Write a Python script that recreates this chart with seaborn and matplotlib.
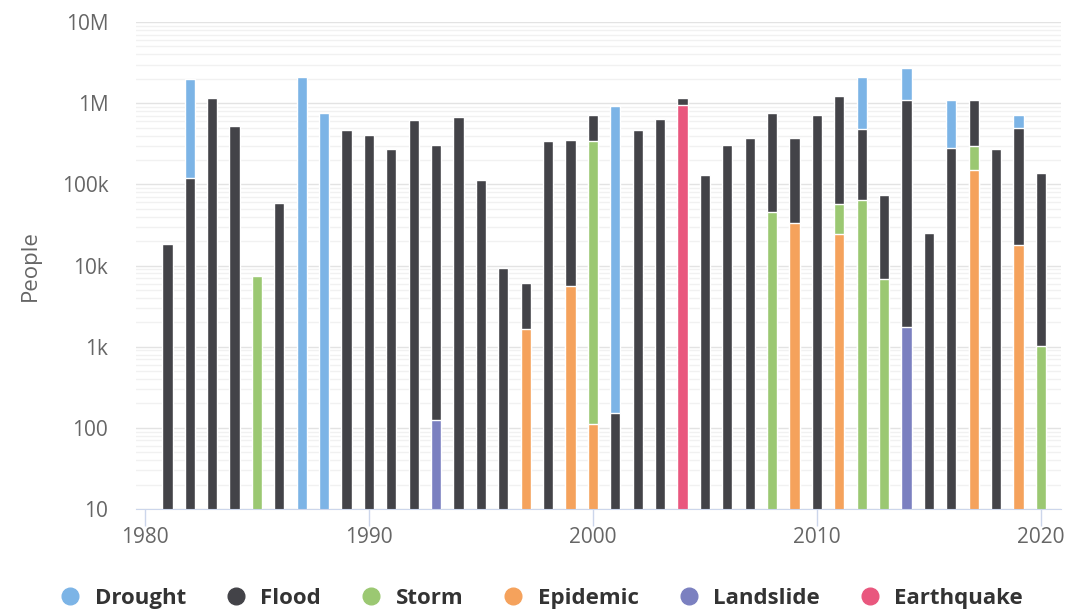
import numpy as np
import pandas as pd
import matplotlib
matplotlib.use("Agg")
import matplotlib.pyplot as plt
from matplotlib.lines import Line2D
from matplotlib.ticker import FixedLocator, FixedFormatter, LogLocator, NullFormatter
import seaborn as sns

years = list(range(1981, 2021))

# segment values per year (people affected), 1981..2020
drought = [0, 1860000, 0, 0, 0, 0, 2080000, 760000, 0, 0,
           0, 0, 0, 0, 0, 0, 0, 0, 0, 0,
           932800, 0, 0, 0, 0, 0, 0, 0, 0, 0,
           0, 1604000, 0, 1600000, 0, 821000, 0, 0, 218000, 0]
flood = [18500, 120000, 1150000, 520000, 0, 59000, 0, 0, 472000, 404000,
         276000, 614000, 304000, 684000, 112000, 9300, 4440, 342000, 349400, 366000,
         154, 467000, 644000, 206000, 131000, 304000, 377000, 714000, 343500, 711000,
         1163000, 412000, 67100, 1098250, 25000, 279000, 805000, 276000, 482200, 137980]
storm = [0, 0, 0, 0, 7500, 0, 0, 0, 0, 0,
         0, 0, 0, 0, 0, 0, 0, 0, 0, 344900,
         0, 0, 0, 0, 0, 0, 0, 46000, 0, 0,
         32500, 64000, 6900, 0, 0, 0, 146000, 0, 0, 1020]
epidemic = [0, 0, 0, 0, 0, 0, 0, 0, 0, 0,
            0, 0, 0, 0, 0, 0, 1660, 0, 5600, 111,
            0, 0, 0, 0, 0, 0, 0, 0, 33500, 0,
            24500, 0, 0, 0, 0, 0, 149000, 0, 17800, 0]
landslide = [0] * 40
landslide[years.index(1993)] = 124
landslide[years.index(2014)] = 1750
earthquake = [0] * 40
earthquake[years.index(2004)] = 944000

series_names = ["Drought", "Flood", "Storm", "Epidemic", "Landslide", "Earthquake"]
series_vals = [drought, flood, storm, epidemic, landslide, earthquake]
colors = ["#7cb4e6", "#434348", "#9bc872", "#f5a25c", "#7b80c0", "#e9577e"]

df = pd.DataFrame({"year": years})
for name, vals in zip(series_names, series_vals):
    df[name] = vals

# stack bottom -> top: Earthquake, Landslide, Epidemic, Storm, Flood, Drought
stack_order = series_names[::-1]
cum = df[stack_order].cumsum(axis=1)

all_years = list(range(1980, 2021))

fig = plt.figure(figsize=(10.65, 6.13), dpi=100)
ax = fig.add_axes([0.1277, 0.1697, 0.869, 0.7943])
ax.set_yscale("log")

# draw cumulative tops, from top layer down, each one overwriting the lower part
for name, col in zip(series_names, colors):
    sub = pd.DataFrame({"year": df["year"], "top": cum[name]})
    sub = sub[df[name] > 0]
    sns.barplot(data=sub, x="year", y="top", order=all_years, color=col,
                width=0.46, edgecolor="white", linewidth=1, errorbar=None,
                saturation=1, ax=ax)

ax.set_ylim(10, 1e7)
ax.set_xlim(-0.4, 40.92)

ax.yaxis.set_major_locator(FixedLocator([1e1, 1e2, 1e3, 1e4, 1e5, 1e6, 1e7]))
ax.yaxis.set_major_formatter(FixedFormatter(["10", "100", "1k", "10k", "100k", "1M", "10M"]))
ax.yaxis.set_minor_locator(LogLocator(base=10, subs=np.arange(2, 10)))
ax.yaxis.set_minor_formatter(NullFormatter())
ax.grid(axis="y", which="major", color="#e3e3e3", linewidth=1)
ax.grid(axis="y", which="minor", color="#f1f1f1", linewidth=1)
ax.set_axisbelow(True)

ax.set_xticks([0, 10, 20, 30, 40])
ax.set_xticklabels(["1980", "1990", "2000", "2010", "2020"])
ax.tick_params(axis="x", length=12, color="#ccd6eb", width=1, labelsize=15, labelcolor="#666666", pad=1)
ax.tick_params(axis="y", which="both", length=0, labelsize=15, labelcolor="#666666", pad=20)

for s in ["top", "right", "left"]:
    ax.spines[s].set_visible(False)
ax.spines["bottom"].set_color("#ccd6eb")

ax.set_xlabel("")
ax.set_ylabel("People", fontsize=16, color="#666666")
ax.yaxis.set_label_coords(-0.103, 0.5)

for lbl in ax.get_xticklabels() + ax.get_yticklabels():
    lbl.set_fontfamily("Open Sans")
ax.yaxis.label.set_fontfamily("Open Sans")

handles = [Line2D([0], [0], marker="o", linestyle="", markersize=12,
                  markerfacecolor=c, markeredgecolor=c) for c in colors]
fig.legend(handles, series_names, loc="center", bbox_to_anchor=(0.508, 0.024),
           ncol=6, frameon=False, handlelength=1.0, handletextpad=0.6,
           columnspacing=1.75, borderpad=0, borderaxespad=0,
           prop={"family": "Open Sans", "weight": "bold", "size": 16},
           labelcolor="#333333")

fig.savefig("out.png", dpi=100)
